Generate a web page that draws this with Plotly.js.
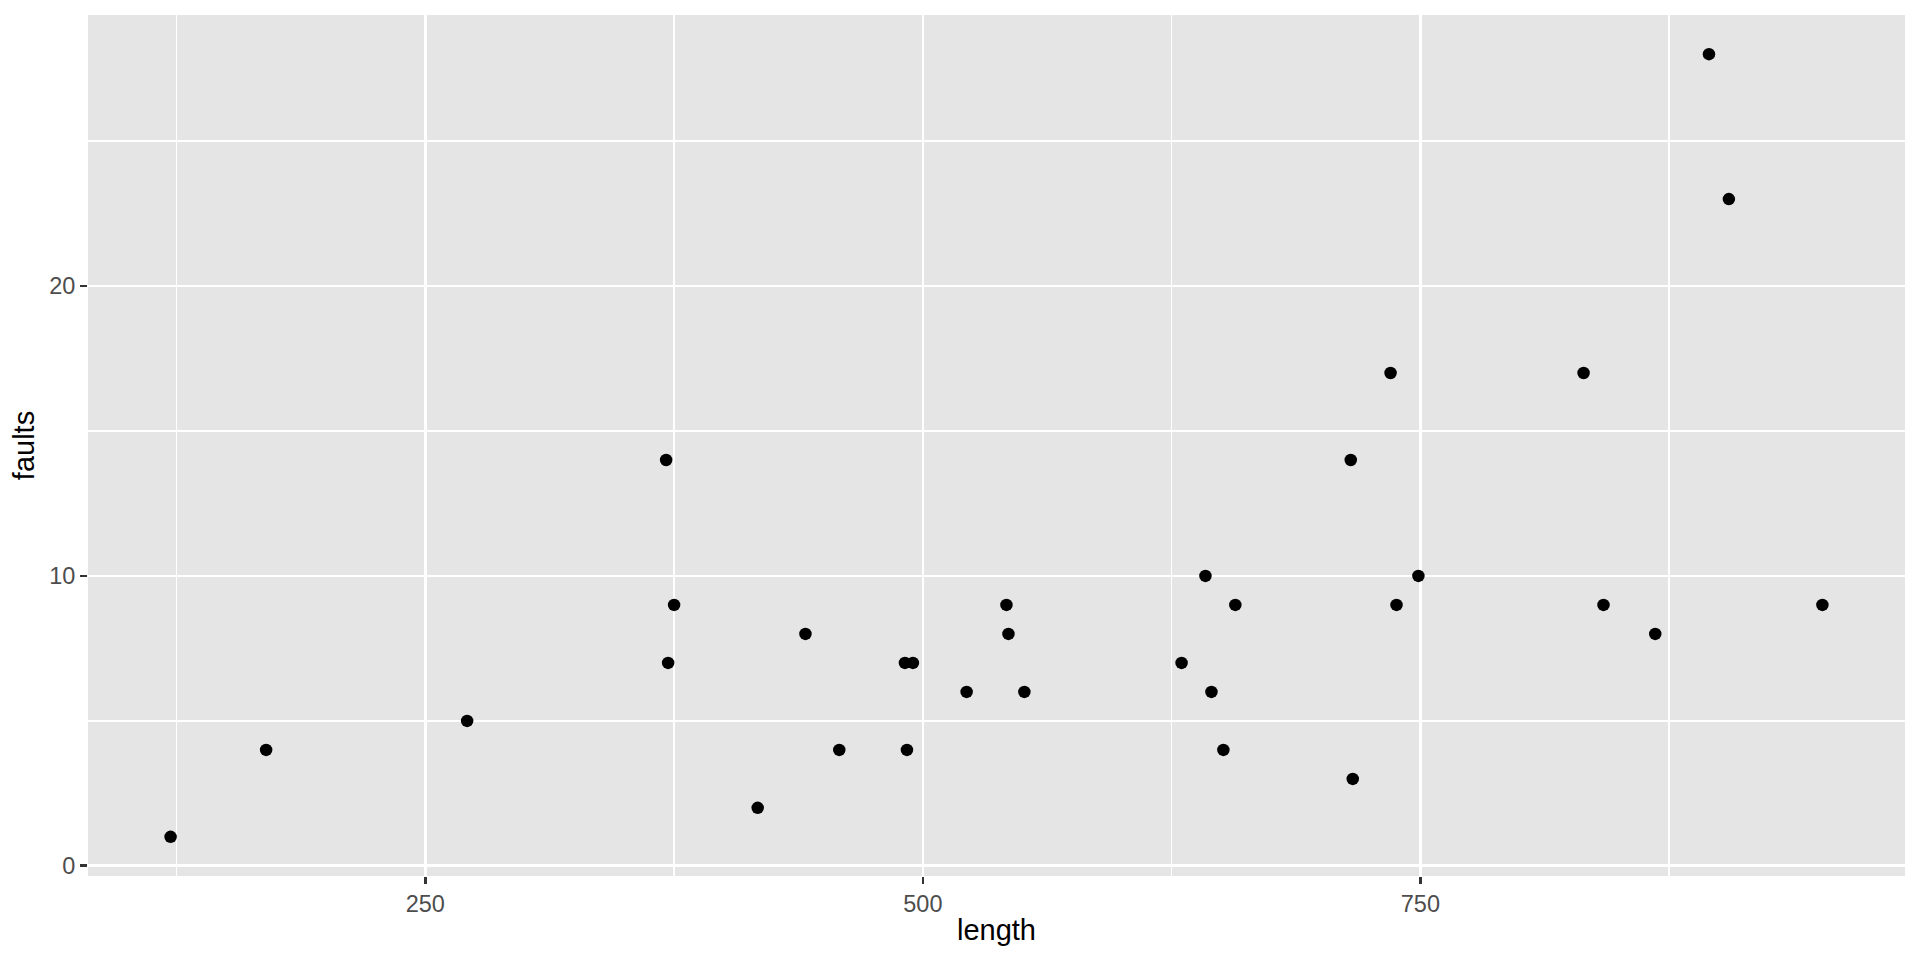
<!DOCTYPE html>
<html>
<head>
<meta charset="utf-8">
<script src="https://cdn.plot.ly/plotly-3.0.1.min.js"></script>
<style>html,body{margin:0;padding:0;background:#fff;}#chart{width:1920px;height:960px;}</style>
</head>
<body>
<div id="chart"></div>
<script>
const lengthVals = [551, 651, 832, 375, 715, 868, 271, 630, 491, 372, 645, 441, 895, 458, 642, 492, 543, 842, 905, 542, 522, 122, 657, 170, 738, 371, 735, 749, 495, 716, 952, 417];
const faultVals = [6, 4, 17, 9, 14, 8, 5, 7, 7, 7, 6, 8, 28, 4, 10, 4, 8, 9, 23, 9, 6, 1, 9, 4, 9, 14, 17, 10, 7, 3, 9, 2];
const xTicks = [250, 500, 750];
const yTicks = [0, 10, 20];

const xr = [Math.min(...lengthVals), Math.max(...lengthVals)];
const yr = [Math.min(...faultVals), Math.max(...faultVals)];
const xPad = (xr[1]-xr[0])*0.05, yPad = (yr[1]-yr[0])*0.05;

const FONT = 'Liberation Sans, Arial, sans-serif';

const trace = {
  x: lengthVals, y: faultVals, type: 'scatter', mode: 'markers',
  marker: {color: '#000000', size: 12.5, line: {width: 0}},
  hoverinfo: 'x+y', showlegend: false
};

const axisCommon = {
  showgrid: true, gridcolor: '#ffffff', gridwidth: 2.7,
  zeroline: false, showline: false,
  ticks: 'outside', ticklen: 7, tickwidth: 2.7, tickcolor: '#333333',
  tickfont: {family: FONT, size: 23.5, color: '#4d4d4d'},
  tickmode: 'array'
};

const layout = {
  width: 1920, height: 960,
  paper_bgcolor: '#ffffff', plot_bgcolor: '#e5e5e5',
  margin: {l: 88, r: 15, t: 15, b: 84},
  xaxis: Object.assign({}, axisCommon, {
    range: [xr[0]-xPad, xr[1]+xPad], tickvals: xTicks, ticktext: xTicks.map(String),
    minor: {tickvals: [125, 375, 625, 875], showgrid: true, gridcolor: '#ffffff', gridwidth: 1.35, ticks: ''},
    title: {text: 'length', font: {family: FONT, size: 29, color: '#000000'}, standoff: 3}
  }),
  yaxis: Object.assign({}, axisCommon, {
    range: [yr[0]-yPad, yr[1]+yPad], tickvals: yTicks, ticktext: yTicks.map(String),
    minor: {tickvals: [5, 15, 25], showgrid: true, gridcolor: '#ffffff', gridwidth: 1.35, ticks: ''},
    title: {text: 'faults', font: {family: FONT, size: 29, color: '#000000'}, standoff: 6}
  })
};

Plotly.newPlot('chart', [trace], layout, {displayModeBar: false, staticPlot: true});
</script>
</body>
</html>
